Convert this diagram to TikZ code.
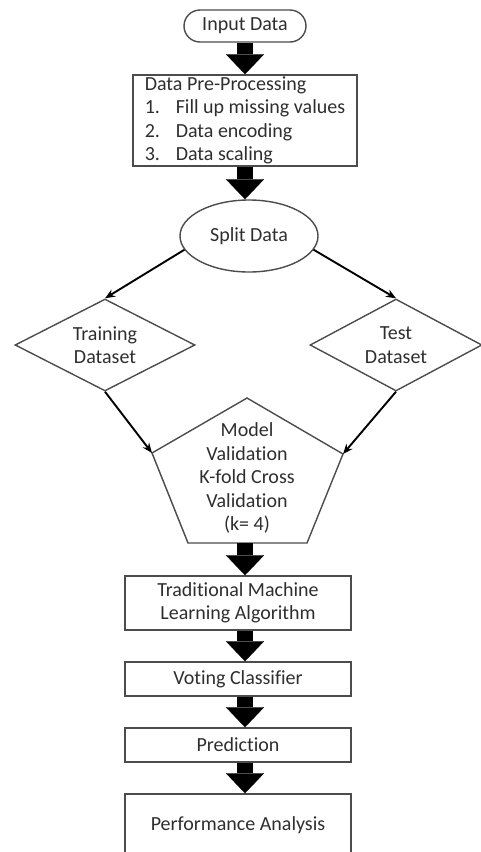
\documentclass[tikz,border=0pt]{standalone}
\usepackage{fontspec}
\setmainfont{Carlito}[Ligatures={NoCommon}]
\usetikzlibrary{arrows.meta,shapes.geometric}
\tikzset{
  shapebase/.style={draw=black!70, line width=1.4pt, text=black!82,
    font=\fontsize{20}{23.5}\selectfont, inner sep=0pt},
  startstop/.style={shapebase, rounded corners=16pt, minimum width=122pt, minimum height=32pt},
  procbox/.style={shapebase, rectangle, minimum width=226pt, align=center},
  splitnode/.style={shapebase, ellipse, minimum width=138pt, minimum height=72pt},
  decision/.style={shapebase, diamond, aspect=2, minimum height=92pt, align=center},
  bigarrow/.style={line width=16pt, -{Triangle[width=38pt,length=20pt,line width=0.1pt]}},
  thinarrow/.style={line width=1.9pt, -{Stealth[length=10pt,width=8pt]}},
}
\begin{document}
\begin{tikzpicture}[x=1pt,y=-1pt]
  \path[use as bounding box] (0,0) rectangle (481,852);
  \clip (0,0) rectangle (481,852);
  \coordinate (spine) at (245,0);

  \node[startstop] (input) at (245,26) {Input Data};
  \node[shapebase, rectangle, align=left, minimum width=224pt,
        minimum height=91pt] (prep) at (245,120.5)
    {Data Pre-Processing\\
     \makebox[31pt][l]{1.}Fill up missing values\\
     \makebox[31pt][l]{2.}Data encoding\\
     \makebox[31pt][l]{3.}Data scaling};
  \node[splitnode] (split) at (249,236) {Split Data};
  \node[decision, minimum width=180pt] (train) at (105,345) {Training\\Dataset};
  \node[decision, minimum width=172pt] (test) at (396,345) {Test\\Dataset};

  % pentagon for the validation step
  \coordinate (ptop) at (247,398);
  \coordinate (pl) at (152,453);
  \coordinate (pr) at (343,454);
  \coordinate (pbl) at (188,543);
  \coordinate (pbr) at (307,543);
  \coordinate (pb) at (245,543);
  \draw[draw=black!70, line width=1.4pt] (ptop) -- (pl) -- (pbl) -- (pbr) -- (pr) -- cycle;
  \node[shapebase, draw=none, align=center] (valid) at (247,478)
    {Model\\Validation\\K-fold Cross\\Validation\\(k= 4)};

  \node[procbox, minimum height=54pt] (tml) at (238,603)
    {Traditional Machine\\Learning Algorithm};
  \node[procbox, minimum height=34pt] (vote) at (238,679) {Voting Classifier};
  \node[procbox, minimum height=34pt] (pred) at (238,745) {Prediction};
  \node[procbox, minimum height=62pt] (perf) at (238,825) {Performance Analysis};

  \draw[bigarrow] (input) -- (prep);
  \draw[bigarrow] (prep.south) -- (prep.south |- split.north);
  \draw[thinarrow] (split.192) -- (train.north);
  \draw[thinarrow] (split.-12) -- (test.north);
  \draw[thinarrow] (train.south) -- (pl);
  \draw[thinarrow] (test.south) -- (pr);
  \draw[bigarrow] (pb) -- (tml.north -| spine);
  \draw[bigarrow] (tml.south -| spine) -- (vote.north -| spine);
  \draw[bigarrow] (vote.south -| spine) -- (pred.north -| spine);
  \draw[bigarrow] (pred.south -| spine) -- (perf.north -| spine);
\end{tikzpicture}
\end{document}
